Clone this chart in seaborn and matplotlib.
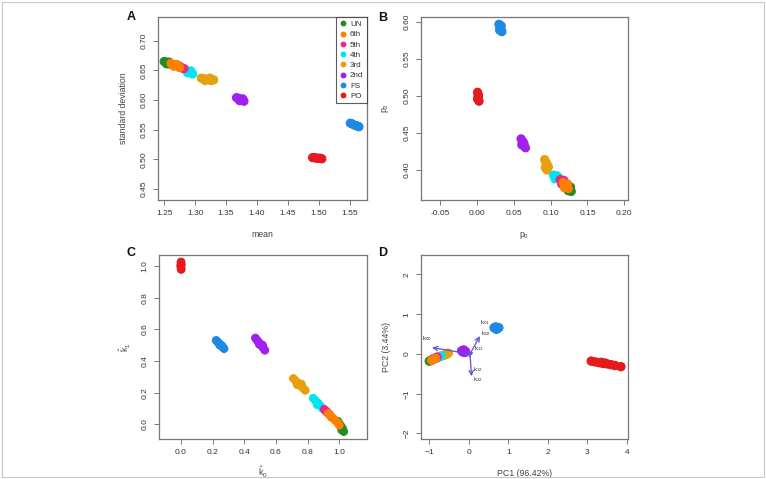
import numpy as np
import pandas as pd
import matplotlib
matplotlib.use("Agg")
import matplotlib.pyplot as plt
from matplotlib.patches import Rectangle
from matplotlib.lines import Line2D
import seaborn as sns

groups = ["UN", "6th", "5th", "4th", "3rd", "2nd", "FS", "PO"]
colors = ["#228B22", "#FF7F00", "#E7298A", "#00E5EE", "#E6A00E", "#A020F0", "#1E88E5", "#E41A1C"]
draw_order = ["PO", "FS", "2nd", "3rd", "4th", "UN", "5th", "6th"]

# Panel A: mean vs standard deviation
A_mean = {
    "UN": [1.250, 1.253, 1.256, 1.259, 1.262, 1.254, 1.258],
    "6th": [1.261, 1.264, 1.268, 1.272, 1.275, 1.266, 1.270],
    "5th": [1.270, 1.273, 1.276, 1.279, 1.282, 1.275],
    "4th": [1.283, 1.286, 1.289, 1.292, 1.296, 1.288, 1.293],
    "3rd": [1.310, 1.314, 1.318, 1.322, 1.326, 1.330, 1.316, 1.324],
    "2nd": [1.367, 1.370, 1.373, 1.376, 1.379, 1.372, 1.377],
    "FS": [1.551, 1.554, 1.557, 1.560, 1.563, 1.565],
    "PO": [1.490, 1.493, 1.496, 1.499, 1.502, 1.505],
}
A_sd = {
    "UN": [0.665, 0.664, 0.662, 0.661, 0.660, 0.661, 0.664],
    "6th": [0.662, 0.660, 0.659, 0.657, 0.655, 0.657, 0.660],
    "5th": [0.659, 0.658, 0.656, 0.654, 0.653, 0.655],
    "4th": [0.652, 0.650, 0.648, 0.646, 0.644, 0.646, 0.649],
    "3rd": [0.637, 0.636, 0.635, 0.634, 0.633, 0.634, 0.633, 0.637],
    "2nd": [0.604, 0.603, 0.601, 0.600, 0.598, 0.599, 0.602],
    "FS": [0.561, 0.560, 0.558, 0.557, 0.556, 0.555],
    "PO": [0.503, 0.503, 0.502, 0.502, 0.502, 0.501],
}

# Panel B: p0 vs p2
B_p0 = {
    "UN": [0.123, 0.125, 0.127, 0.128, 0.124, 0.127],
    "6th": [0.117, 0.120, 0.122, 0.124, 0.119, 0.123],
    "5th": [0.113, 0.116, 0.119, 0.121, 0.115, 0.118],
    "4th": [0.104, 0.107, 0.110, 0.112, 0.106, 0.109],
    "3rd": [0.092, 0.094, 0.096, 0.093, 0.095, 0.097, 0.094],
    "2nd": [0.060, 0.062, 0.064, 0.061, 0.063, 0.066, 0.062],
    "FS": [0.030, 0.031, 0.032, 0.033, 0.034, 0.031, 0.033],
    "PO": [0.001, 0.002, 0.002, 0.001, 0.003, 0.002],
}
B_p2 = {
    "UN": [0.378, 0.376, 0.374, 0.371, 0.372, 0.377],
    "6th": [0.383, 0.380, 0.378, 0.375, 0.376, 0.381],
    "5th": [0.387, 0.385, 0.383, 0.380, 0.381, 0.386],
    "4th": [0.393, 0.391, 0.390, 0.388, 0.388, 0.392],
    "3rd": [0.414, 0.410, 0.406, 0.403, 0.400, 0.404, 0.408],
    "2nd": [0.442, 0.439, 0.436, 0.434, 0.433, 0.430, 0.437],
    "FS": [0.597, 0.594, 0.592, 0.590, 0.587, 0.589, 0.595],
    "PO": [0.505, 0.502, 0.499, 0.496, 0.493, 0.500],
}

# Panel C: k0 hat vs k1 hat
C_k0 = {
    "UN": [0.990, 1.000, 1.010, 1.020, 1.028, 1.015],
    "6th": [0.930, 0.945, 0.960, 0.975, 0.990, 1.000, 0.950],
    "5th": [0.905, 0.915, 0.925, 0.935, 0.920],
    "4th": [0.835, 0.850, 0.865, 0.880, 0.895, 0.860],
    "3rd": [0.710, 0.725, 0.740, 0.755, 0.770, 0.785, 0.735, 0.760],
    "2nd": [0.470, 0.480, 0.490, 0.500, 0.510, 0.520, 0.530, 0.495, 0.515],
    "FS": [0.222, 0.232, 0.242, 0.252, 0.262, 0.272, 0.245, 0.258],
    "PO": [0.000, 0.001, -0.001, 0.000, 0.001, 0.000],
}
C_k1 = {
    "UN": [0.020, 0.005, -0.010, -0.025, -0.045, -0.035],
    "6th": [0.070, 0.055, 0.040, 0.025, 0.010, -0.005, 0.045],
    "5th": [0.095, 0.085, 0.075, 0.065, 0.080],
    "4th": [0.165, 0.150, 0.135, 0.118, 0.100, 0.125],
    "3rd": [0.290, 0.275, 0.260, 0.245, 0.230, 0.215, 0.250, 0.255],
    "2nd": [0.545, 0.532, 0.520, 0.508, 0.495, 0.482, 0.468, 0.505, 0.500],
    "FS": [0.530, 0.520, 0.510, 0.500, 0.490, 0.478, 0.500, 0.496],
    "PO": [1.025, 1.012, 1.000, 0.990, 0.978, 1.005],
}

# Panel D: PCA scores
D_pc1 = {
    "UN": [-1.00, -0.96, -0.92],
    "6th": [-0.94, -0.88, -0.84],
    "5th": [-0.90, -0.85, -0.80],
    "4th": [-0.80, -0.74, -0.70],
    "3rd": [-0.64, -0.58, -0.52, -0.56],
    "2nd": [-0.18, -0.13, -0.08, -0.15, -0.10],
    "FS": [0.64, 0.68, 0.72, 0.76, 0.70],
    "PO": [3.10, 3.20, 3.30, 3.40, 3.50, 3.60, 3.70, 3.85, 3.35, 3.45],
}
D_pc2 = {
    "UN": [-0.18, -0.16, -0.14],
    "6th": [-0.16, -0.13, -0.11],
    "5th": [-0.12, -0.10, -0.08],
    "4th": [-0.10, -0.07, -0.05],
    "3rd": [-0.04, -0.01, 0.02, 0.00],
    "2nd": [0.08, 0.10, 0.06, 0.05, 0.04],
    "FS": [0.66, 0.68, 0.64, 0.66, 0.62],
    "PO": [-0.18, -0.20, -0.22, -0.24, -0.25, -0.27, -0.29, -0.32, -0.21, -0.23],
}
# loading arrows and their labels
arrow_origin = (0.03, 0.0)
arrow_tip_x = [-0.93, 0.28, 0.07, 0.12]
arrow_tip_y = [0.16, 0.45, -0.56, 0.04]
arrow_label_text = [r"$k_{00}$", r"$k_{01}$", r"$k_{02}$", r"$k_{11}$", r"$k_{12}$", r"$k_{22}$"]
arrow_label_x = [-1.07, 0.42, 0.42, 0.26, 0.24, 0.24]
arrow_label_y = [0.40, 0.80, 0.51, 0.13, -0.40, -0.65]

sns.set_theme(style="white")
plt.rcParams["font.family"] = ["Liberation Sans", "DejaVu Sans"]
plt.rcParams["mathtext.fontset"] = "custom"
plt.rcParams["mathtext.rm"] = "Liberation Sans"
plt.rcParams["mathtext.it"] = "Liberation Sans"

palette = dict(zip(groups, colors))

def frame(xd, yd):
    rows = []
    for g in draw_order:
        for x, y in zip(xd[g], yd[g]):
            rows.append((g, x, y))
    return pd.DataFrame(rows, columns=["group", "x", "y"])

fig = plt.figure(figsize=(7.66, 4.79), dpi=100)
W, H = 766, 479
def pos(l, t, r, b):
    return [l / W, 1 - b / H, (r - l) / W, (b - t) / H]

axA = fig.add_axes(pos(158, 17, 367, 200))
axB = fig.add_axes(pos(421, 17, 628, 200))
axC = fig.add_axes(pos(159, 255, 367, 439))
axD = fig.add_axes(pos(421, 255, 628, 439))

spine_col = "#777777"
tick_col = "#333333"

def style(ax, xlim, ylim, xt, yt, xfmt, yfmt, xlabel, ylabel, xpad=9, ypad=9):
    ax.set_xlim(*xlim)
    ax.set_ylim(*ylim)
    ax.set_xticks(xt)
    ax.set_yticks(yt)
    ax.set_xticklabels([xfmt.format(v) for v in xt])
    ax.set_yticklabels([yfmt.format(v) for v in yt], rotation=90, va="center")
    for s in ax.spines.values():
        s.set_color(spine_col)
        s.set_linewidth(0.9)
    ax.tick_params(axis="both", which="both", direction="out", length=3.5, width=0.7,
                   color=spine_col, labelsize=6.0, labelcolor=tick_col, pad=4,
                   bottom=True, left=True)
    ax.set_xlabel(xlabel, fontsize=6.3, color="#444444", labelpad=xpad)
    ax.set_ylabel(ylabel, fontsize=6.3, color="#444444", labelpad=ypad)
    ax.grid(False)

def scatter(ax, xd, yd, size):
    df = frame(xd, yd)
    sns.scatterplot(data=df, x="x", y="y", hue="group", palette=palette,
                    hue_order=groups, ax=ax, s=size, linewidth=0.8,
                    edgecolor=df["group"].map(palette), legend=False, zorder=3)

scatter(axA, A_mean, A_sd, 34)
scatter(axB, B_p0, B_p2, 34)
scatter(axC, C_k0, C_k1, 30)
scatter(axD, D_pc1, D_pc2, 36)

style(axA, (1.240, 1.578), (0.4315, 0.740), [1.25, 1.30, 1.35, 1.40, 1.45, 1.50, 1.55],
      [0.45, 0.50, 0.55, 0.60, 0.65, 0.70], "{:.2f}", "{:.2f}", "mean", "standard deviation")
style(axB, (-0.0757, 0.205), (0.3594, 0.6068), [-0.05, 0.00, 0.05, 0.10, 0.15, 0.20],
      [0.40, 0.45, 0.50, 0.55, 0.60], "{:.2f}", "{:.2f}", r"$p_0$", r"$p_2$")
style(axC, (-0.139, 1.175), (-0.092, 1.069), [0.0, 0.2, 0.4, 0.6, 0.8, 1.0],
      [0.0, 0.2, 0.4, 0.6, 0.8, 1.0], "{:.1f}", "{:.1f}", r"$\hat{k}_0$", r"$\hat{k}_1$", xpad=6, ypad=6)
style(axD, (-1.21, 4.03), (-2.14, 2.49), [-1, 0, 1, 2, 3, 4],
      [-2, -1, 0, 1, 2], "{:d}", "{:d}", "PC1 (96.42%)", "PC2 (3.44%)")
axD.set_xticklabels(["\u22121", "0", "1", "2", "3", "4"])
axD.set_yticklabels(["\u22122", "\u22121", "0", "1", "2"], rotation=90, va="center")

# arrows in panel D
arrow_col = "#5B4FD9"
for tx, ty in zip(arrow_tip_x, arrow_tip_y):
    axD.annotate("", xy=(tx, ty), xytext=arrow_origin,
                 arrowprops=dict(arrowstyle="->", color=arrow_col, lw=0.9,
                                 shrinkA=0, shrinkB=0, mutation_scale=8), zorder=4)
for t, x, y in zip(arrow_label_text, arrow_label_x, arrow_label_y):
    axD.text(x, y, t, fontsize=4.5, color="#333333", ha="center", va="center")

# legend in panel A
handles = [Line2D([0], [0], marker="o", linestyle="", markersize=3.2,
                  markerfacecolor=c, markeredgecolor=c) for c in colors]
leg = axA.legend(handles, groups, loc="upper right", fontsize=5.8, frameon=True,
                 borderaxespad=0, handlelength=0.8, handletextpad=0.5,
                 labelspacing=0.32, borderpad=0.45, fancybox=False)
leg.get_frame().set_edgecolor("#333333")
leg.get_frame().set_linewidth(0.8)
for txt in leg.get_texts():
    txt.set_color("#333333")

# panel letters
for letter, (x, y) in zip("ABCD", [(131, 17), (383, 18), (131, 253), (383, 253)]):
    fig.text(x / W, 1 - y / H, letter, fontsize=9, fontweight="bold",
             ha="center", va="center", color="#111111")

# outer frame
fig.patches.append(Rectangle((2 / W, 2 / H), 1 - 4 / W, 1 - 4 / H, transform=fig.transFigure,
                             fill=False, edgecolor="#c8c8c8", linewidth=0.8))

fig.savefig("out.png", dpi=100)
